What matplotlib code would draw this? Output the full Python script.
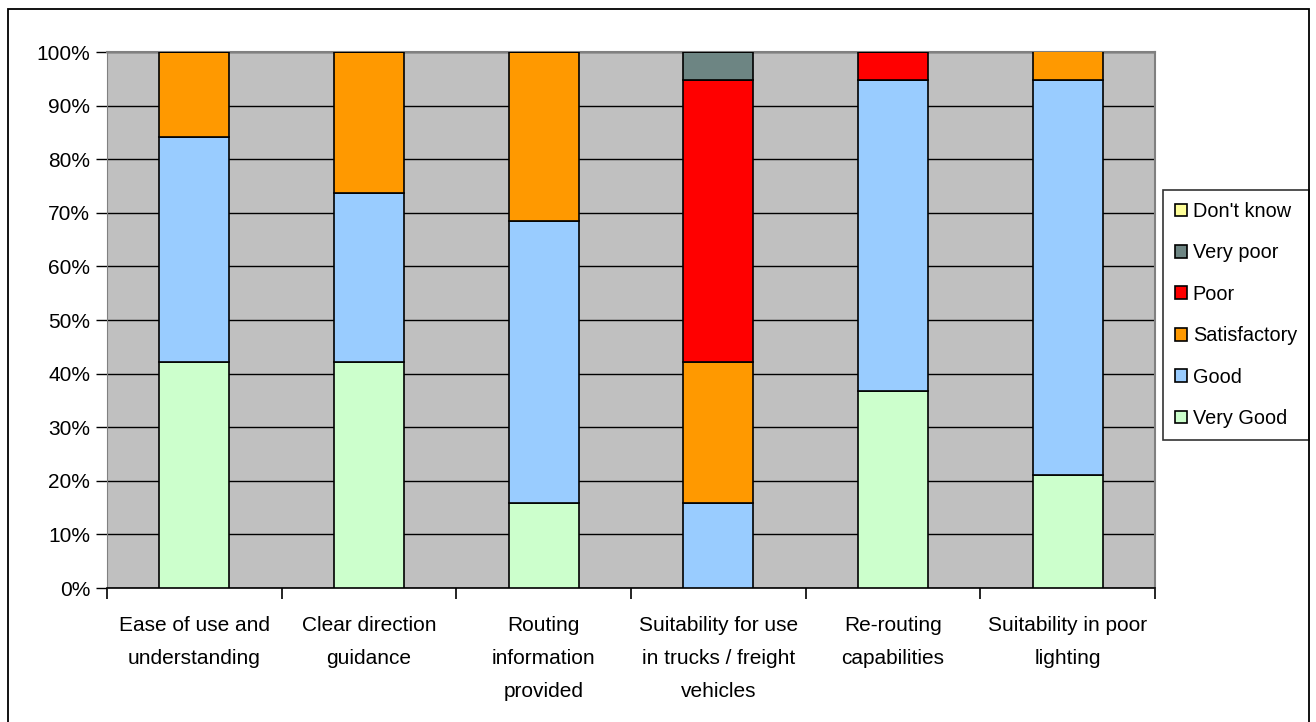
import matplotlib.pyplot as plt
from matplotlib.patches import Rectangle
from matplotlib.ticker import MultipleLocator, FuncFormatter

plt.rcParams['font.family'] = ['Liberation Sans', 'DejaVu Sans']

categories = [
    "Ease of use and\nunderstanding",
    "Clear direction\nguidance",
    "Routing\ninformation\nprovided",
    "Suitability for use\nin trucks / freight\nvehicles",
    "Re-routing\ncapabilities",
    "Suitability in poor\nlighting",
]

# percentage of responses per rating, bottom to top
very_good = [42.1, 42.1, 15.8, 0.0, 36.8, 21.1]
good = [42.1, 31.6, 52.6, 15.8, 57.9, 73.7]
satisfactory = [15.8, 26.3, 31.6, 26.3, 0.0, 5.3]
poor = [0.0, 0.0, 0.0, 52.6, 5.3, 0.0]
very_poor = [0.0, 0.0, 0.0, 5.3, 0.0, 0.0]
dont_know = [0.0, 0.0, 0.0, 0.0, 0.0, 0.0]

series = [
    ("Very Good", very_good, "#CCFFCC"),
    ("Good", good, "#99CCFF"),
    ("Satisfactory", satisfactory, "#FF9900"),
    ("Poor", poor, "#FF0000"),
    ("Very poor", very_poor, "#6D8583"),
    ("Don't know", dont_know, "#FFFF99"),
]

FS = 15

fig = plt.figure(figsize=(13.16, 7.22), dpi=100)
W, H = 1316, 722

# outer chart frame
fig.patches.append(Rectangle((8 / W, -0.01), 1301 / W, (722 - 9) / H + 0.01,
                             transform=fig.transFigure, fill=False,
                             edgecolor="black", linewidth=1.3))

ax = fig.add_axes([107 / W, (722 - 588) / H, (1155 - 107) / W, (588 - 52) / H])
ax.set_facecolor("#C0C0C0")

x = list(range(len(categories)))
bottom = [0.0] * len(categories)
handles = []
for label, vals, color in series:
    bars = ax.bar(x, vals, bottom=bottom, width=0.4, color=color,
                  edgecolor="black", linewidth=1.2, label=label, zorder=3)
    handles.append(bars)
    bottom = [b + v for b, v in zip(bottom, vals)]

ax.set_xlim(-0.5, len(categories) - 0.5)
ax.set_ylim(0, 100)
ax.yaxis.set_major_locator(MultipleLocator(10))
ax.yaxis.set_major_formatter(FuncFormatter(lambda v, p: f"{v:.0f}%"))
ax.grid(axis="y", color="black", linewidth=1, zorder=1)
ax.set_axisbelow(True)

for side in ("top", "right"):
    ax.spines[side].set_color("#808080")
    ax.spines[side].set_linewidth(1.5)
ax.spines["left"].set_color("#808080")
ax.spines["bottom"].set_color("black")
ax.spines["bottom"].set_linewidth(1.2)

ax.set_xticks([i + 0.5 for i in range(-1, len(categories))], minor=False)
ax.set_xticklabels([])
ax.set_xticks(x, minor=True)
ax.set_xticklabels(categories, minor=True, linespacing=1.92)
ax.tick_params(axis="x", which="major", length=8, width=1.2, color="black")
ax.tick_params(axis="x", which="minor", length=0, pad=20.5, labelsize=FS)
ax.tick_params(axis="y", length=8, width=1, labelsize=FS, pad=4)

leg = ax.legend(handles[::-1], [s[0] for s in series][::-1],
                loc="upper left", bbox_to_anchor=(1163 / W, (722 - 190) / H),
                bbox_transform=fig.transFigure, fontsize=14.3,
                frameon=True, fancybox=False, edgecolor="black",
                handlelength=0.6, handleheight=0.6, handletextpad=0.3,
                labelspacing=1.13, borderpad=0.6, borderaxespad=0)
leg.get_frame().set_linewidth(1.2)

fig.savefig("out.png", dpi=100)
